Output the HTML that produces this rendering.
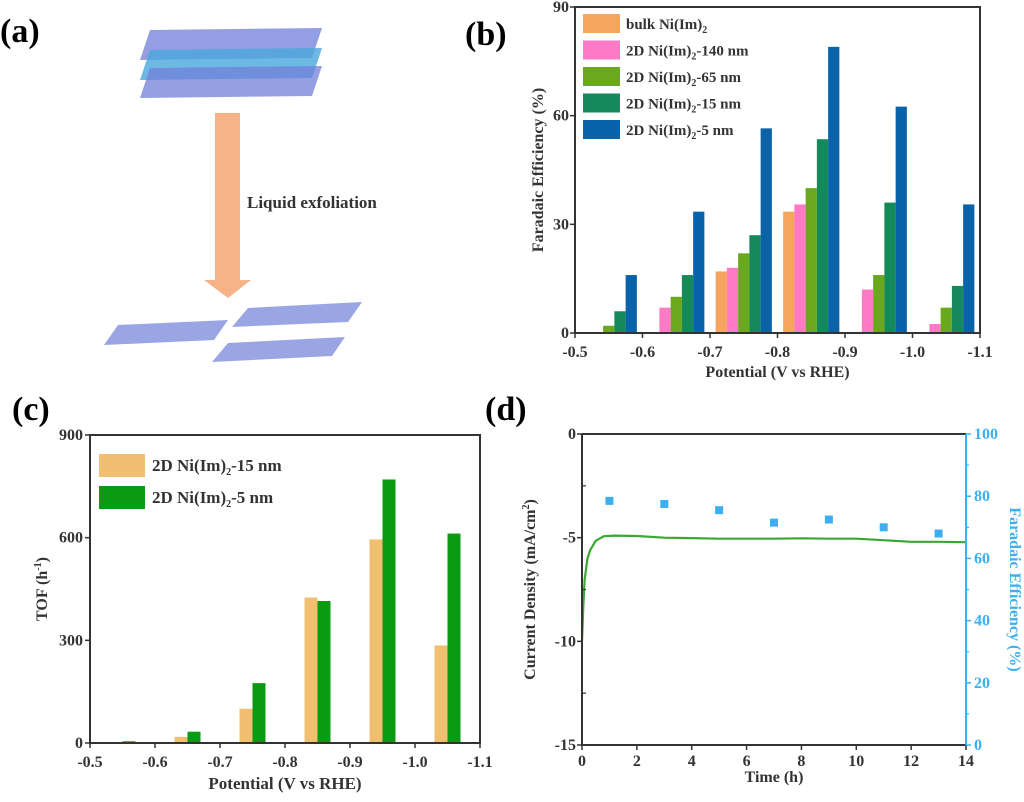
<!DOCTYPE html>
<html><head><meta charset="utf-8"><style>
html,body{margin:0;padding:0;background:#fff;}
svg text{font-family:"Liberation Serif",serif;font-weight:bold;}
</style></head><body>
<svg id="fig" width="1024" height="797" viewBox="0 0 1024 797" xmlns="http://www.w3.org/2000/svg">
<g>
<text x="0" y="42" font-size="34">(a)</text>
<g>
<polygon points="150,30 322,28 312,58 140,60" fill="#6f7fd8" opacity="0.75"/>
<polygon points="150,50 322,48 312,78 140,80" fill="#4aa7dc" opacity="0.8"/>
<polygon points="150,68 322,66 312,96 140,98" fill="#7080d8" opacity="0.75"/>
</g>
<rect x="215" y="113" width="25" height="170" fill="#f6b388"/>
<polygon points="204,280 251,280 228,298" fill="#f6b388"/>
<text x="247" y="208" font-size="17" fill="#333">Liquid exfoliation</text>
<g>
<polygon points="118,325 228,320 214,340 104,345" fill="#6f7fd8" opacity="0.7"/>
<polygon points="248,308 362,302 348,322 232,327" fill="#6f7fd8" opacity="0.7"/>
<polygon points="228,343 345,337 332,356 212,362" fill="#6f7fd8" opacity="0.7"/>
</g>
</g>
<text x="465" y="45" font-size="34">(b)</text>
<text x="12" y="420" font-size="34">(c)</text>
<text x="485" y="420" font-size="34">(d)</text>
<g id="pb"></g>
<g id="pc"></g>
<g id="pd"></g>
</svg>
<script>
// Panel b data
const bCategories = [-0.55,-0.65,-0.75,-0.85,-0.95,-1.05];
const bSeriesNames = ["bulk Ni(Im)","2D Ni(Im)-140 nm","2D Ni(Im)-65 nm","2D Ni(Im)-15 nm","2D Ni(Im)-5 nm"];
const bBulk = [0,0,17,33.5,0.3,0];
const b140 = [0,7,18,35.5,12,2.5];
const b65 = [2,10,22,40,16,7];
const b15 = [6,16,27,53.5,36,13];
const b5 = [16,33.5,56.5,79,62.5,35.5];
const bXTicks = [-0.5,-0.6,-0.7,-0.8,-0.9,-1.0,-1.1];
const bYTicks = [0,30,60,90];
// Panel c data
const cCategories = [-0.55,-0.65,-0.75,-0.85,-0.95,-1.05];
const c15 = [0,18,100,425,595,285];
const c5 = [5,33,175,415,770,612];
const cXTicks = [-0.5,-0.6,-0.7,-0.8,-0.9,-1.0,-1.1];
const cYTicks = [0,300,600,900];
// Panel d data
const dTime = [0,0.05,0.1,0.2,0.3,0.5,0.8,1.2,2,3,4,5,6,7,8,9,10,11,12,13,14];
const dCurrent = [-10,-8.2,-7,-6,-5.6,-5.15,-4.93,-4.9,-4.92,-5,-5.02,-5.05,-5.05,-5.05,-5.03,-5.05,-5.05,-5.12,-5.2,-5.2,-5.22];
const dFETime = [1,3,5,7,9,11,13];
const dFE = [78.5,77.5,75.5,71.5,72.5,70,68];
const dXTicks = [0,2,4,6,8,10,12,14];
const dYTicks = [0,-5,-10,-15];
const dY2Ticks = [0,20,40,60,80,100];

const NS="http://www.w3.org/2000/svg";
function mk(parent,tag,attrs,txt){const e=document.createElementNS(NS,tag);for(const k in attrs)e.setAttribute(k,attrs[k]);if(txt!==undefined)e.textContent=txt;parent.appendChild(e);return e;}
function lin(d0,d1,r0,r1){return v=>r0+(v-d0)/(d1-d0)*(r1-r0);}

function frame(g,x0,x1,y0,y1){
  const r=mk(g,'rect',{x:x0,y:y0,width:x1-x0,height:y1-y0,fill:'none',stroke:'#333','stroke-width':2});
  
  
}

// ---------- Panel b ----------
(function(){
  const g=document.getElementById('pb');
  const X0=575,X1=980,Y0=7,Y1=333;
  const x=lin(-0.5,-1.1,X0,X1), y=lin(0,90,Y1,Y0);
  const colors=["#f5a55e","#ff7ac6","#6aa81e","#14895a","#0a62a8"];
  const series=[bBulk,b140,b65,b15,b5];
  const bw=(x(-0.6)-x(-0.5))/6;
  series.forEach((s,si)=>{
    s.forEach((v,i)=>{
      const cx=x(bCategories[i]);
      const r=mk(g,'rect',{x:cx+(si-2.5)*bw,y:y(v),width:bw,height:Math.max(0,Y1-y(v)),fill:colors[si]});
      
      
    });
  });
  frame(g,X0,X1,Y0,Y1);
  bXTicks.forEach(t=>{
    mk(g,'line',{x1:x(t),x2:x(t),y1:Y1,y2:Y1+5,stroke:'#333','stroke-width':1.5});
    const tx=mk(g,'text',{x:x(t),y:Y1+24,'font-size':16,'text-anchor':'middle',fill:'#333'},t.toFixed(1));
    
    
  });
  bYTicks.forEach(t=>{
    mk(g,'line',{x1:X0-5,x2:X0,y1:y(t),y2:y(t),stroke:'#333','stroke-width':1.5});
    const tx=mk(g,'text',{x:X0-6,y:y(t)+5,'font-size':16,'text-anchor':'end',fill:'#333'},String(t));
    
    
  });
  const xt=mk(g,'text',{x:(X0+X1)/2,y:Y1+44,'font-size':16,'text-anchor':'middle',fill:'#333'},'Potential (V vs RHE)');
  
  
  const yt=mk(g,'text',{x:0,y:0,'font-size':16,'text-anchor':'middle',fill:'#333',transform:`translate(543,${(Y0+Y1)/2}) rotate(-90)`},'Faradaic Efficiency (%)');
  
  
  bSeriesNames.forEach((n,i)=>{
    const ly=14+i*26.5;
    const lr=mk(g,'rect',{x:583,y:ly,width:37,height:19,fill:colors[i]});
    
    
    const parts=n.split('Ni(Im)');
    const t=mk(g,'text',{x:626,y:ly+15,'font-size':15,fill:'#333'});
    
    
    mk(t,'tspan',{},parts[0]+'Ni(Im)');
    mk(t,'tspan',{'font-size':10,dy:4},'2');
    mk(t,'tspan',{dy:-4},parts[1]);
  });
})();

// ---------- Panel c ----------
(function(){
  const g=document.getElementById('pc');
  const X0=90,X1=480,Y0=435,Y1=743;
  const x=lin(-0.5,-1.1,X0,X1), y=lin(0,900,Y1,Y0);
  const colors=["#f0c070","#0a9a14"];
  const series=[c15,c5];
  const bw=(x(-0.6)-x(-0.5))*0.2;
  series.forEach((s,si)=>{
    s.forEach((v,i)=>{
      const cx=x(cCategories[i]);
      const r=mk(g,'rect',{x:cx+(si-1)*bw,y:y(v),width:bw,height:Math.max(0,Y1-y(v)),fill:colors[si]});
      
      
    });
  });
  frame(g,X0,X1,Y0,Y1);
  cXTicks.forEach(t=>{
    mk(g,'line',{x1:x(t),x2:x(t),y1:Y1,y2:Y1+5,stroke:'#333','stroke-width':1.5});
    const tx=mk(g,'text',{x:x(t),y:Y1+24,'font-size':16,'text-anchor':'middle',fill:'#333'},t.toFixed(1));
    
    
  });
  cYTicks.forEach(t=>{
    mk(g,'line',{x1:X0-5,x2:X0,y1:y(t),y2:y(t),stroke:'#333','stroke-width':1.5});
    const tx=mk(g,'text',{x:X0-7,y:y(t)+5,'font-size':16,'text-anchor':'end',fill:'#333'},String(t));
    
    
  });
  const xt=mk(g,'text',{x:(X0+X1)/2,y:Y1+46,'font-size':17,'text-anchor':'middle',fill:'#333'},'Potential (V vs  RHE)');
  
  
  const yt=mk(g,'text',{x:0,y:0,'font-size':16,'text-anchor':'middle',fill:'#333',transform:`translate(47,${(Y0+Y1)/2}) rotate(-90)`});
  
  
  mk(yt,'tspan',{},'TOF (h');
  mk(yt,'tspan',{'font-size':10,dy:-6},'-1');
  mk(yt,'tspan',{dy:6},')');
  ["-15 nm","-5 nm"].forEach((n,i)=>{
    const ly=454+i*32;
    const lr=mk(g,'rect',{x:99,y:ly,width:46,height:23,fill:colors[i]});
    
    
    const t=mk(g,'text',{x:152,y:ly+17,'font-size':17,fill:'#333'});
    
    
    mk(t,'tspan',{},'2D Ni(Im)');
    mk(t,'tspan',{'font-size':10,dy:4},'2');
    mk(t,'tspan',{dy:-4},n);
  });
})();

// ---------- Panel d ----------
(function(){
  const g=document.getElementById('pd');
  const X0=582,X1=966,Y0=434,Y1=745;
  const x=lin(0,14,X0,X1), y=lin(0,-15,Y0,Y1), y2=lin(0,100,Y1,Y0);
  const blue="#3ab0f0";
  let d='';
  dTime.forEach((t,i)=>{d+=(i?'L':'M')+x(t).toFixed(1)+','+y(dCurrent[i]).toFixed(1);});
  const p=mk(g,'path',{d:d,fill:'none',stroke:'#3aa832','stroke-width':2.2});
  
  
  dFETime.forEach((t,i)=>{
    const r=mk(g,'rect',{x:x(t)-4,y:y2(dFE[i])-4,width:8,height:8,fill:blue});
    
    
  });
  mk(g,'line',{x1:X0,x2:X1,y1:Y0,y2:Y0,stroke:'#333','stroke-width':2});
  mk(g,'line',{x1:X0,x2:X1,y1:Y1,y2:Y1,stroke:'#333','stroke-width':2});
  mk(g,'line',{x1:X0,x2:X0,y1:Y0,y2:Y1,stroke:'#333','stroke-width':2});
  const ra=mk(g,'line',{x1:X1,x2:X1,y1:Y0,y2:Y1,stroke:blue,'stroke-width':2});
  
  
  dXTicks.forEach(t=>{
    mk(g,'line',{x1:x(t),x2:x(t),y1:Y1,y2:Y1+5,stroke:'#333','stroke-width':1.5});
    const tx=mk(g,'text',{x:x(t),y:Y1+21,'font-size':16,'text-anchor':'middle',fill:'#333'},String(t));
    
    
  });
  dYTicks.forEach(t=>{
    mk(g,'line',{x1:X0-5,x2:X0,y1:y(t),y2:y(t),stroke:'#333','stroke-width':1.5});
    if(t>-15) mk(g,'line',{x1:X0,x2:X0+4,y1:y(t-2.5),y2:y(t-2.5),stroke:'#333','stroke-width':1.2});
    const tx=mk(g,'text',{x:X0-6,y:y(t)+5,'font-size':16,'text-anchor':'end',fill:'#333'},String(t));
    
    
  });
  dY2Ticks.forEach(t=>{
    mk(g,'line',{x1:X1,x2:X1+5,y1:y2(t),y2:y2(t),stroke:blue,'stroke-width':1.5});
    if(t<100) mk(g,'line',{x1:X1,x2:X1+3,y1:y2(t+10),y2:y2(t+10),stroke:blue,'stroke-width':1.2});
    const tx=mk(g,'text',{x:X1+8,y:y2(t)+5,'font-size':16,fill:blue},String(t));
    
    
  });
  const xt=mk(g,'text',{x:(X0+X1)/2,y:Y1+37,'font-size':16,'text-anchor':'middle',fill:'#333'},'Time (h)');
  
  
  const yt=mk(g,'text',{x:0,y:0,'font-size':16,'text-anchor':'middle',fill:'#333',transform:`translate(535,${(Y0+Y1)/2}) rotate(-90)`});
  
  
  mk(yt,'tspan',{},'Current Density (mA/cm');
  mk(yt,'tspan',{'font-size':10,dy:-6},'2');
  mk(yt,'tspan',{dy:6},')');
  const y2t=mk(g,'text',{x:0,y:0,'font-size':16,'text-anchor':'middle',fill:blue,transform:`translate(1010,${(Y0+Y1)/2}) rotate(90)`},'Faradaic Efficiency (%)');
  
  
})();
</script>
</body></html>
